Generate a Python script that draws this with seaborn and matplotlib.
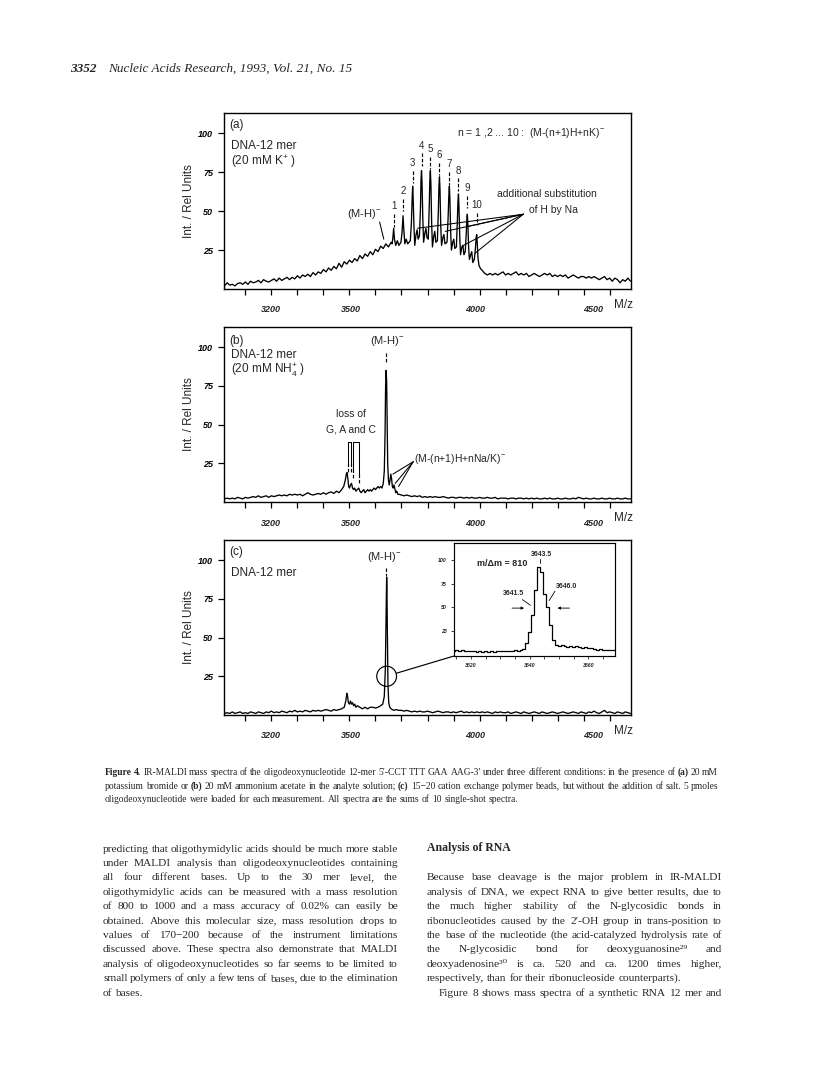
import numpy as np
import pandas as pd
import matplotlib
matplotlib.use("Agg")
import matplotlib.pyplot as plt
import matplotlib.transforms as mtransforms
from matplotlib.patches import Ellipse
import seaborn as sns

sns.set_theme(style="white")
plt.rcParams['font.family'] = ['Liberation Sans', 'DejaVu Sans']
plt.rcParams['mathtext.fontset'] = 'custom'
plt.rcParams['mathtext.rm'] = 'Liberation Sans'
plt.rcParams['mathtext.it'] = 'Liberation Sans:italic'
plt.rcParams['mathtext.bf'] = 'Liberation Sans:bold'
SERIF = ['Liberation Serif', 'DejaVu Serif']

# ---------------- spectrum (a): 20 mM K+ ----------------
mz_a_base = list(range(3020, 3670, 10))
int_a_base = [2, 4, 2.5, 3, 2, 3.5, 4, 3, 4.5, 3,
              5, 4, 4.5, 5.5, 4, 6, 5, 4.5, 5.5, 6.5,
              5, 7, 5.5, 6.5, 7.5, 6, 7.5, 6.5, 8.5, 7,
              9, 8, 9.5, 8, 10.5, 9, 11, 10, 12.5, 11,
              13.5, 12, 14.5, 13, 16.5, 14, 17.5, 16, 18.5, 17,
              19.5, 18, 21.5, 19.5, 22.5, 21, 24, 22, 25.5, 24,
              27.5, 26, 29, 27, 30]
mz_a_peaks = [3664, 3667, 3670, 3673, 3678, 3684, 3690,
              3698, 3702, 3706, 3709, 3713, 3718, 3724,
              3734, 3738, 3741, 3743, 3745, 3748, 3751, 3756, 3760, 3764,
              3769, 3773, 3775, 3777, 3779, 3782, 3785, 3790, 3794, 3798,
              3803, 3807, 3809, 3811, 3813, 3816, 3819, 3824, 3828, 3832,
              3838, 3842, 3844, 3846, 3848, 3851, 3854, 3859, 3863, 3867,
              3875, 3879, 3882, 3884, 3886, 3889, 3892, 3897, 3901, 3905,
              3911, 3915, 3917, 3919, 3921, 3924, 3927, 3932, 3936, 3940,
              3945, 3949, 3951, 3953, 3955, 3958, 3961, 3966, 3970, 3974,
              3980, 3984, 3987, 3989, 3991, 3994, 3998, 4004, 4010]
int_a_peaks = [29, 33, 39, 32, 28, 31, 28,
               30, 36, 47, 38, 29, 32, 29,
               31, 42, 58, 66, 58, 40, 28, 35, 38, 32,
               34, 52, 70, 76, 68, 45, 30, 36, 39, 33,
               32, 55, 70, 76, 68, 42, 27, 34, 37, 30,
               31, 52, 66, 72, 64, 40, 28, 33, 35, 29,
               30, 45, 60, 66, 58, 37, 25, 30, 32, 26,
               27, 45, 56, 61, 52, 33, 22, 27, 28, 22,
               24, 36, 44, 48, 42, 27, 19, 22, 24, 17,
               19, 26, 33, 35, 30, 20, 15, 13, 12]
mz_a_tail = list(range(4020, 4590, 10))
int_a_tail = [10, 9, 10, 9, 10, 9, 10, 11, 9, 10,
              9, 10, 11, 9, 10, 9, 10, 8, 9, 10,
              9, 8, 9, 10, 9, 10, 8, 9, 8, 9,
              8, 9, 7, 8, 9, 8, 7, 8, 8, 7,
              8, 7, 8, 7, 6, 7, 8, 6, 7, 5,
              7, 6, 4, 6, 5, 7, 5]

# K adduct peak labels n = 1..10
k_labels = ['1', '2', '3', '4', '5', '6', '7', '8', '9', '10']
k_label_mz = [3670, 3706, 3743, 3777, 3811, 3846, 3884, 3919, 3953, 3989]
k_label_y = [53, 63, 81, 92, 90, 86, 80, 76, 65, 54]
na_line_ends_mz = [3762, 3868, 3951, 3938, 3983]
na_line_ends_y = [39, 37, 40, 28, 23]

# ---------------- spectrum (b): 20 mM NH4+ ----------------
mz_b_base = list(range(3020, 3480, 10))
int_b_base = [2, 2.5, 2, 2.5, 2, 3, 2.5, 2, 3, 2.5,
              3, 3.5, 3, 4, 3, 3.5, 4, 3, 4, 3.5,
              4, 4.5, 4, 4.5, 4, 5, 4.5, 5, 4.5, 5,
              4, 5, 6, 5, 4.5, 5, 5.5, 5, 6, 5,
              6, 6.5, 5.5, 7, 6, 8]
mz_b_mid = [3478, 3484, 3488, 3491, 3494, 3497, 3500, 3504, 3508, 3512, 3516,
            3520, 3525, 3530, 3536, 3540, 3545, 3550, 3555, 3560, 3565, 3570, 3575,
            3580, 3585, 3590, 3595, 3600, 3605, 3610, 3615, 3620, 3625, 3630,
            3634, 3637, 3639, 3641, 3643, 3645, 3647, 3650, 3653, 3656, 3659, 3662,
            3665, 3668, 3671, 3674, 3678, 3682, 3686, 3690]
int_b_mid = [10, 14, 18, 19, 15, 10, 9, 11, 12, 9, 8,
             9, 7, 8, 9, 7, 6, 7, 8, 6, 7, 8, 7,
             8, 7, 8, 9, 8, 9, 10, 9, 10, 9, 12,
             20, 45, 75, 85, 78, 50, 25, 14, 11, 14, 18, 15,
             10, 9, 11, 9, 6, 7, 5, 5]
mz_b_tail = list(range(3700, 4590, 10))
int_b_tail = [4.5, 4, 4.5, 4, 3.5, 4, 3.5, 4, 3, 3.5,
              3, 3.5, 3, 3.5, 3, 3, 3.5, 3, 2.5, 3,
              3, 2.5, 3, 3, 2.5, 3, 2.5, 3, 2.5, 2.5,
              3, 2.5, 2.5, 3, 2.5, 2.5, 3, 2, 2.5, 2.5,
              2.5, 2, 2.5, 2.5, 2, 2.5, 2.5, 2, 2.5, 2,
              2.5, 2, 2.5, 2, 2, 2.5, 2, 2.5, 2, 2,
              2.5, 2, 2, 2.5, 2, 2, 2.5, 2, 3, 2.5,
              2, 2.5, 2, 2, 2.5, 2, 2, 2.5, 2, 2,
              2.5, 2, 2, 2.5, 2, 2, 2.5, 2, 2]
loss_bracket_mz = [3494, 3507, 3513, 3537]
loss_bracket_low = [19, 19, 15, 12]
adduct_line_ends_mz = [3667, 3676, 3689]
adduct_line_ends_y = [18, 12, 10]

# ---------------- spectrum (c): cation exchange beads ----------------
mz_c_base = list(range(3020, 3480, 10))
int_c_base = [1, 1.5, 1, 2, 1, 1.5, 2, 1, 1.5, 1,
              2, 1.5, 1, 2, 1.5, 1, 2, 1.5, 2.5, 1.5,
              2, 1.5, 2.5, 2, 1.5, 2.5, 2, 3, 2, 2.5,
              2, 3, 2.5, 2, 3, 2.5, 3, 2.5, 3, 3.5,
              3, 2.5, 3.5, 3, 3.5, 4]
mz_c_mid = [3480, 3486, 3490, 3493, 3496, 3500, 3504, 3508, 3512, 3516,
            3520, 3525, 3530, 3540, 3550, 3560, 3570, 3580, 3590, 3600,
            3610, 3620, 3628, 3634, 3638, 3640, 3642, 3643, 3644, 3646,
            3648, 3651, 3655, 3660, 3670, 3680, 3690]
int_c_mid = [5, 9, 14, 12, 8, 7, 9, 7, 8, 6,
             7, 5, 6, 5, 4, 5, 4, 5, 5, 4.5,
             5, 6, 7, 12, 30, 55, 80, 89, 82, 50,
             20, 8, 5, 4, 3, 3.5, 3]
mz_c_tail = list(range(3700, 4590, 10))
int_c_tail = [3, 2.5, 3, 2.5, 2, 2.5, 2, 2.5, 2, 2,
              2.5, 2, 1.5, 2, 2.5, 2, 1.5, 2, 2, 1.5,
              2, 1.5, 2, 2.5, 1.5, 2, 1.5, 2, 1.5, 2,
              1.5, 2, 1.5, 2, 1.5, 1, 2, 1.5, 2, 1.5,
              1.5, 2, 1, 1.5, 2, 1.5, 1, 2, 1.5, 1,
              1.5, 2, 1.5, 1, 2, 1.5, 1, 1.5, 2, 1.5,
              1, 1.5, 2, 1.5, 1, 1.5, 2, 1.5, 1, 2,
              1.5, 1, 2, 1.5, 2.5, 1.5, 1, 2, 3, 1.5,
              2, 1.5, 1, 2, 1.5, 1, 2, 1.5, 1]

# inset of (c): high resolution view of (M-H)-
mz_inset = list(range(3614, 3670))
int_inset = [3, 4, 3.5, 4, 3.5, 3, 3.5, 3, 2.5, 3,
             2.5, 3, 2, 3, 2.5, 3, 3.5, 3, 3.5, 3,
             3.5, 4, 3.5, 4, 6, 12, 24, 42, 68, 93,
             87, 64, 50, 31, 15, 10, 9, 9.5, 9, 8,
             8.5, 8, 9, 8, 7, 8, 7, 6.5, 6, 5,
             6, 5, 4, 5, 4.5, 5]

# axis tick labels
x_ticks = list(range(3100, 4600, 100))
x_tick_labels = ['3200', '3500', '4000', '4500']
x_tick_label_pos = [3200, 3505, 3985, 4435]
y_ticks = [25, 50, 75, 100]
inset_x_ticks = list(range(3615, 3670, 5))
inset_x_labels = ['3620', '3640', '3660']

# ---------------- text of the page ----------------
header_num = '3352'
header_text = 'Nucleic Acids Research, 1993, Vol. 21, No. 15'
caption_lines = [
    "**Figure **4.** IR-MALDI mass spectra of the oligodeoxynucleotide 12-mer 5′-CCT TTT GAA AAG-3′ under three different conditions: in the presence of **(a)** 20 mM",
    "potassium bromide or **(b)** 20 mM ammonium acetate in the analyte solution; **(c)** 15−20 cation exchange polymer beads, but without the addition of salt. 5 pmoles",
    "oligodeoxynucleotide were loaded for each measurement. All spectra are the sums of 10 single-shot spectra.",
]
left_col = [
    "predicting that oligothymidylic acids should be much more stable",
    "under MALDI analysis than oligodeoxynucleotides containing",
    "all four different bases. Up to the 30 mer level, the",
    "oligothymidylic acids can be measured with a mass resolution",
    "of 800 to 1000 and a mass accuracy of 0.02% can easily be",
    "obtained. Above this molecular size, mass resolution drops to",
    "values of 170−200 because of the instrument limitations",
    "discussed above. These spectra also demonstrate that MALDI",
    "analysis of oligodeoxynucleotides so far seems to be limited to",
    "small polymers of only a few tens of bases, due to the elimination",
    "of bases.",
]
right_col = [
    "Because base cleavage is the major problem in IR-MALDI",
    "analysis of DNA, we expect RNA to give better results, due to",
    "the much higher stability of the N-glycosidic bonds in",
    "ribonucleotides caused by the 2′-OH group in trans-position to",
    "the base of the nucleotide (the acid-catalyzed hydrolysis rate of",
    "the N-glycosidic bond for deoxyguanosine²⁹ and",
    "deoxyadenosine³⁰ is ca. 520 and ca. 1200 times higher,",
    "respectively, than for their ribonucleoside counterparts).",
    "Figure 8 shows mass spectra of a synthetic RNA 12 mer and",
]

W, H = 816, 1073
fig = plt.figure(figsize=(W / 100, H / 100), dpi=100)
fig.patch.set_facecolor('white')
renderer = fig.canvas.get_renderer()
IDENT = mtransforms.IdentityTransform()


def px_axes(left, top, right, bottom):
    return fig.add_axes([left / W, 1 - bottom / H, (right - left) / W, (bottom - top) / H])


def draw_spectrum(ax, mz, inten):
    df = pd.DataFrame({'mz': mz, 'intensity': inten})
    sns.lineplot(data=df, x='mz', y='intensity', ax=ax, color='black', lw=0.95,
                 estimator=None, sort=False)
    ax.set_xlim(3018, 4582)
    ax.set_ylim(0, 113)
    ax.set_xticks(x_ticks)
    ax.set_xticklabels([])
    ax.set_yticks(y_ticks)
    ax.set_yticklabels([str(v) for v in y_ticks], fontsize=6.5, fontstyle='italic', fontweight='bold')
    ax.tick_params(axis='both', direction='out', length=4, width=0.9, colors='black',
                   bottom=True, left=True)
    ax.tick_params(axis='y', pad=4)
    for s in ax.spines.values():
        s.set_visible(True)
        s.set_color('black')
        s.set_linewidth(1.0)
    ax.set_xlabel('')
    ax.set_ylabel('Int. / Rel Units', fontsize=8.5, labelpad=2)
    ax.grid(False)
    h_px = ax.get_position().height * H
    for lab, pos in zip(x_tick_labels, x_tick_label_pos):
        ax.text(pos, -21 / h_px, lab, transform=ax.get_xaxis_transform(), ha='center', va='center',
                fontsize=6.5, fontstyle='italic', fontweight='bold')
    ax.text(4553, -16 / h_px, 'M/z', transform=ax.get_xaxis_transform(), ha='center', va='center',
            fontsize=8.5)


def dash(ax, x, y0, y1):
    ax.plot([x, x], [y0, y1], color='black', lw=0.85, ls=(0, (3, 1.5)))


# ---------- panel (a) ----------
ax_a = px_axes(224, 113, 631, 289)
draw_spectrum(ax_a, mz_a_base + mz_a_peaks + mz_a_tail, int_a_base + int_a_peaks + int_a_tail)
ax_a.text(3040, 105, '(a)', fontsize=8.5, va='center')
ax_a.text(3046, 92, 'DNA-12 mer', fontsize=8.5, va='center')
ax_a.text(3046, 82, '(20 mM K$^{+}$ )', fontsize=8.5, va='center')
ax_a.text(3913, 100, 'n = 1 ,2 ... 10 :  (M-(n+1)H+nK)$^{-}$', fontsize=7.5, va='center')
for lab, x, y in zip(k_labels, k_label_mz, k_label_y):
    ax_a.text(x, y, lab, fontsize=7, ha='center', va='center')
    dash(ax_a, x, y - 5, y - 13)
ax_a.text(3556, 48, '(M-H)$^{-}$', fontsize=8, ha='center', va='center')
ax_a.plot([3616, 3632], [43, 32], color='black', lw=0.75)
ax_a.text(4257, 61, 'additional substitution', fontsize=7.5, ha='center', va='center')
ax_a.text(4283, 51, 'of H by Na', fontsize=7.5, ha='center', va='center')
for x, y in zip(na_line_ends_mz, na_line_ends_y):
    ax_a.plot([4168, x], [48, y], color='black', lw=0.75)

# ---------- panel (b) ----------
ax_b = px_axes(224, 327, 631, 502)
draw_spectrum(ax_b, mz_b_base + mz_b_mid + mz_b_tail, int_b_base + int_b_mid + int_b_tail)
ax_b.text(3040, 104, '(b)', fontsize=8.5, va='center')
ax_b.text(3046, 95, 'DNA-12 mer', fontsize=8.5, va='center')
ax_b.text(3046, 85, '(20 mM NH$_{4}^{+}$ )', fontsize=8.5, va='center')
ax_b.text(3644, 104, '(M-H)$^{-}$', fontsize=8, ha='center', va='center')
dash(ax_b, 3642, 96, 90)
ax_b.text(3505, 57, 'loss of', fontsize=7.5, ha='center', va='center')
ax_b.text(3505, 47, 'G, A and C', fontsize=7.5, ha='center', va='center')
ax_b.plot(loss_bracket_mz[:2], [39, 39], color='black', lw=0.75)
ax_b.plot(loss_bracket_mz[2:], [39, 39], color='black', lw=0.75)
for x, lo in zip(loss_bracket_mz, loss_bracket_low):
    ax_b.plot([x, x], [39, lo + 6], color='black', lw=0.75)
    dash(ax_b, x, lo + 6, lo)
ax_b.text(3747, 28, '(M-(n+1)H+nNa/K)$^{-}$', fontsize=7.5, ha='left', va='center')
for x, y in zip(adduct_line_ends_mz, adduct_line_ends_y):
    ax_b.plot([3745, x], [26, y], color='black', lw=0.75)

# ---------- panel (c) ----------
ax_c = px_axes(224, 540, 631, 715)
draw_spectrum(ax_c, mz_c_base + mz_c_mid + mz_c_tail, int_c_base + int_c_mid + int_c_tail)
ax_c.text(3040, 105, '(c)', fontsize=8.5, va='center')
ax_c.text(3046, 92, 'DNA-12 mer', fontsize=8.5, va='center')
ax_c.text(3636, 102, '(M-H)$^{-}$', fontsize=8, ha='center', va='center')
dash(ax_c, 3640, 95, 90)
ax_c.add_patch(Ellipse((3643, 25), width=76, height=13, fill=False, ec='black', lw=0.85))
ax_c.plot([3681, 3900], [27, 38], color='black', lw=0.85)

axin = ax_c.inset_axes([3900, 38, 620, 73], transform=ax_c.transData)
df_in = pd.DataFrame({'mz': mz_inset, 'intensity': int_inset})
sns.lineplot(data=df_in, x='mz', y='intensity', ax=axin, color='black', lw=0.9,
             estimator=None, sort=False, drawstyle='steps-mid')
axin.set_xlim(3614, 3669)
axin.set_ylim(-2, 118)
axin.set_xticks(inset_x_ticks)
axin.set_xticklabels(['' if str(t) not in inset_x_labels else str(t) for t in inset_x_ticks],
                     fontsize=3.8, fontstyle='italic', fontweight='bold')
axin.set_yticks(y_ticks)
axin.set_yticklabels([str(v) for v in y_ticks], fontsize=3.8, fontstyle='italic', fontweight='bold')
axin.tick_params(axis='both', direction='out', length=2, width=0.6, pad=3, bottom=True, left=True)
axin.set_xlabel('')
axin.set_ylabel('')
axin.grid(False)
for s in axin.spines.values():
    s.set_visible(True)
    s.set_color('black')
    s.set_linewidth(0.85)
axin.set_facecolor('white')
axin.text(3622, 96, 'm/Δm = 810', fontsize=6.5, fontweight='bold', va='center')
axin.text(3644, 106, '3643.5', fontsize=5, fontweight='bold', ha='center', va='center')
axin.plot([3643.5, 3643.5], [101, 97], color='black', lw=0.6)
axin.text(3634.5, 64, '3641.5', fontsize=5, fontweight='bold', ha='center', va='center')
axin.plot([3637.5, 3640.2], [58, 52], color='black', lw=0.6)
axin.text(3652.5, 72, '3646.0', fontsize=5, fontweight='bold', ha='center', va='center')
axin.plot([3648.6, 3646.6], [67, 57], color='black', lw=0.6)
axin.annotate('', xy=(3639, 49), xytext=(3633, 49),
              arrowprops=dict(arrowstyle='-|>', lw=0.6, color='black', mutation_scale=4))
axin.annotate('', xy=(3648.5, 49), xytext=(3654.5, 49),
              arrowprops=dict(arrowstyle='-|>', lw=0.6, color='black', mutation_scale=4))


# ---------- page text ----------
def word_list(line):
    out = []
    for w in line.split():
        bold = w.startswith('**')
        out.append((w.replace('**', ''), bold))
    return out


def measure(words, size, family):
    ws = []
    for s, bold in words:
        t = fig.text(0, 0, s, fontsize=size, family=family,
                     fontweight='bold' if bold else 'normal', transform=IDENT)
        ws.append(t.get_window_extent(renderer).width)
        t.remove()
    return ws


def fit_size(lines, width, family, max_size):
    best = max_size
    for line in lines:
        words = word_list(line)
        ws = measure(words, 10.0, family)
        need = sum(ws) + (len(words) - 1) * 0.22 * 10.0 * 100 / 72
        best = min(best, 10.0 * width / need)
    return best


def put_line(line, x0, x1, y, size, family, justify=True):
    words = word_list(line)
    ws = measure(words, size, family)
    if justify and len(words) > 1:
        gap = (x1 - x0 - sum(ws)) / (len(words) - 1)
    else:
        gap = 0.25 * size * 100 / 72
    x = x0
    for (s, bold), wd in zip(words, ws):
        fig.text(x, H - y, s, fontsize=size, family=family,
                 fontweight='bold' if bold else 'normal', transform=IDENT, va='baseline')
        x += wd + gap


fig.text(70, H - 72, header_num, fontsize=9.5, family=SERIF, fontstyle='italic',
         fontweight='bold', transform=IDENT, va='baseline')
fig.text(108, H - 72, header_text, fontsize=9.5, family=SERIF, fontstyle='italic',
         transform=IDENT, va='baseline')

cap_size = fit_size(caption_lines[:2], 613, SERIF, 7.2)
for i, line in enumerate(caption_lines):
    put_line(line, 105, 718, 775 + 13.6 * i, cap_size, SERIF, justify=(i < 2))

body_size = fit_size(left_col[:-1] + [right_col[i] for i in (0, 1, 2, 3, 4, 5, 6)], 295, SERIF, 8.6)
for i, line in enumerate(left_col):
    put_line(line, 103, 398, 851.5 + 14.4 * i, body_size, SERIF, justify=(i < len(left_col) - 1))

fig.text(427, H - 851.5, 'Analysis of RNA', fontsize=body_size + 0.3, family=SERIF,
         fontweight='bold', transform=IDENT, va='baseline')
for i, line in enumerate(right_col):
    y = 851.5 + 14.4 * (i + 2)
    if i == len(right_col) - 1:
        put_line(line, 439, 722, y, body_size, SERIF, justify=True)
    else:
        put_line(line, 427, 722, y, body_size, SERIF, justify=(i != 7))

fig.savefig('out.png', dpi=100, facecolor='white')
